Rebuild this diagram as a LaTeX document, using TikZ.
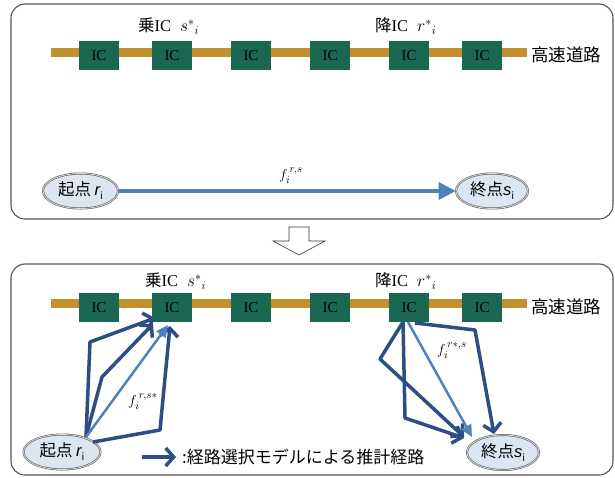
\documentclass[tikz,border=0pt]{standalone}
\usepackage{fontspec}
\setmainfont{Liberation Serif}
\setsansfont{Liberation Sans}
\newfontfamily\jp{Noto Sans CJK JP}
\usetikzlibrary{arrows.meta,shapes.geometric}

\definecolor{roadc}{RGB}{194,145,46}
\definecolor{icgreen}{RGB}{27,104,82}
\definecolor{darkarr}{RGB}{45,78,130}
\definecolor{lightarr}{RGB}{79,129,189}
\definecolor{ellfill}{RGB}{220,230,242}
\definecolor{framec}{RGB}{85,85,85}

\newcommand{\subi}{{\fontsize{10}{10}\selectfont\raisebox{-4pt}{\textit{i}}}}

\begin{document}
\begin{tikzpicture}[x=1pt,y=-1pt,
  panel/.style={draw=framec, line width=1.1pt, rounded corners=14pt},
  road/.style={roadc, line width=9pt},
  ic/.style={fill=icgreen, minimum width=40pt, minimum height=29pt, inner sep=0pt,
    font=\fontsize{15}{15}\selectfont},
  endpt/.style={ellipse, fill=ellfill, draw=gray!75!black, double=gray!30,
    double distance=0.8pt, line width=0.6pt, inner sep=0pt, minimum height=35pt,
    font=\jp\fontsize{16.5}{17}\selectfont},
  hwlabel/.style={anchor=west, inner sep=0pt, font=\jp\fontsize{17.5}{18}\selectfont},
  iclabel/.style={anchor=west, inner sep=0pt, font=\fontsize{16.5}{17}\selectfont},
  flabel/.style={inner sep=0pt, font=\fontsize{15}{15}\selectfont},
  dk/.style={draw=darkarr, line width=3.5pt, line join=round,
    -{Straight Barb[length=8pt,width=18pt]}},
  lt/.style={draw=lightarr, line width=2.5pt, -{Triangle[length=12pt,width=11pt]}},
  toparr/.style={draw=lightarr, line width=3.5pt, -{Triangle[length=17pt,width=17pt]}},
  downarr/.style={draw=black!80, fill=white, line width=0.6pt}
]
\useasboundingbox (0,0) rectangle (615,477);

% ---------- panels ----------
\draw[panel] (11,4) rectangle (613,219);
\draw[panel] (11,264) rectangle (613,475);

% ---------- top panel ----------
\coordinate (rlA) at (51,52);
\coordinate (rrA) at (527,52);
\draw[road] (rlA) -- (rrA);
\foreach \n/\x in {1/99,2/172,3/251,4/330,5/409,6/482}
  \node[ic] (a\n) at (\x,55.5) {IC};
\node[hwlabel] (hwA) at (531,55) {高速道路};
\node[iclabel] (onA) at (138,26) {{\jp 乗}IC\hspace{9pt}$s{}^{*}{}_{i}$};
\node[iclabel] (offA) at (375,26) {{\jp 降}IC\hspace{9pt}$r{}^{*}{}_{i}$};

\node[endpt, minimum width=75pt] (sA) at (80.5,191) {起点 {\sffamily\itshape r}\subi};
\node[endpt, minimum width=72pt] (eA) at (492,191) {終点{\sffamily\itshape s}\subi};
\draw[toparr] (sA.east) -- (eA.west);
\node[flabel] (fA) at (291,176) {$f_{i}^{\,r,s}$};

% ---------- down arrow ----------
\draw[downarr] (289,227) -- (309,227) -- (309,241) -- (325,241) -- (299,255)
  -- (273,241) -- (289,241) -- cycle;

% ---------- bottom panel ----------
\coordinate (rlB) at (51,303);
\coordinate (rrB) at (527,303);
\draw[road] (rlB) -- (rrB);
\foreach \n/\x in {1/99,2/172,3/251,4/330,5/409,6/482}
  \node[ic] (b\n) at (\x,307.5) {IC};
\node[hwlabel] (hwB) at (531,307) {高速道路};
\node[iclabel] (onB) at (145,281) {{\jp 乗}IC\hspace{9pt}$s{}^{*}{}_{i}$};
\node[iclabel] (offB) at (375,281) {{\jp 降}IC\hspace{9pt}$r{}^{*}{}_{i}$};

\node[endpt, minimum width=77pt] (sB) at (62,452) {起点 {\sffamily\itshape r}\subi};
\node[endpt, minimum width=72pt] (eB) at (503,452.5) {終点{\sffamily\itshape s}\subi};

% left group: origin to on-ramp IC
\coordinate (o) at (86,437);
\coordinate (o3) at (93,442);
\coordinate (p1) at (90,342);
\coordinate (p2) at (102,377);
\coordinate (p3) at (160,430);
\coordinate (t1) at (155,318);
\coordinate (t2) at (153,324);
\coordinate (tl) at (168,325);
\coordinate (t3) at (170,326);
\draw[dk] (o) -- (p1) -- (t1);
\draw[dk] (o) -- (p2) -- (t2);
\draw[dk] (o3) -- (p3) -- (t3);
\draw[lt] (o) -- (tl);
\node[flabel] (fB) at (143,401) {$f_{i}^{\,r,s*}$};

% right group: off-ramp IC to destination
\coordinate (q0) at (403,322);
\coordinate (ql) at (408,322);
\coordinate (qc) at (415,323);
\coordinate (qa) at (380,359);
\coordinate (qb) at (405,418);
\coordinate (qcc) at (475,330);
\coordinate (u1) at (464,437);
\coordinate (u2) at (464,438);
\coordinate (ul) at (472,437);
\coordinate (uc) at (494,434);
\draw[dk] (q0) -- (qa) -- (u1);
\draw[dk] (q0) -- (qb) -- (u2);
\draw[dk] (qc) -- (qcc) -- (uc);
\draw[lt] (ql) -- (ul);
\node[flabel] (fC) at (452,350) {$f_{i}^{\,r*,s}$};

% legend
\coordinate (lg1) at (142,457);
\coordinate (lg2) at (176,457);
\draw[dk] (lg1) -- (lg2);
\node[anchor=west, inner sep=0pt, font=\jp\fontsize{17}{17}\selectfont] (lgt) at (182,457)
  {:経路選択モデルによる推計経路};
\end{tikzpicture}
\end{document}
